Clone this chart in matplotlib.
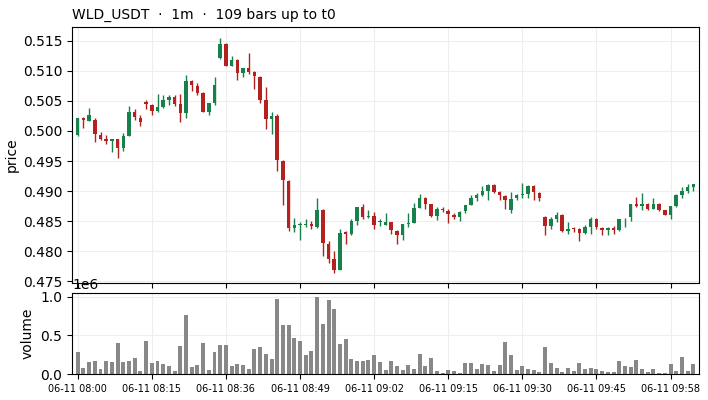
import matplotlib
matplotlib.use("Agg")
import matplotlib.pyplot as plt
import numpy as np

symbol = "WLD_USDT"
interval = "1m"

# OHLC (109 one-minute bars)
opens = [0.49928, 0.50217, 0.50172, 0.50189, 0.49939, 0.49872, 0.49828, 0.49872, 0.49711, 0.49922,
         0.50317, 0.50217, 0.50489, 0.50439, 0.50328, 0.50406, 0.50522, 0.50572, 0.50456, 0.50294,
         0.50839, 0.50756, 0.50639, 0.50322, 0.50472, 0.51211, 0.51456, 0.51089, 0.51189, 0.50961,
         0.51056, 0.50989, 0.50906, 0.50522, 0.50194, 0.50256, 0.49506, 0.49172, 0.48389, 0.48440,
         0.48438, 0.48455, 0.48405, 0.48689, 0.48122, 0.47872, 0.47688, 0.48317, 0.48289, 0.48505,
         0.48739, 0.48572, 0.48589, 0.48483, 0.48438, 0.48488, 0.48339, 0.48272, 0.48450, 0.48472,
         0.48722, 0.48883, 0.48789, 0.48589, 0.48706, 0.48672, 0.48600, 0.48561, 0.48661, 0.48772,
         0.48889, 0.48939, 0.49006, 0.49106, 0.48989, 0.48922, 0.48678, 0.48878, 0.48939, 0.48945,
         0.49089, 0.48972, 0.48572, 0.48422, 0.48539, 0.48606, 0.48339, 0.48378, 0.48372, 0.48294,
         0.48394, 0.48539, 0.48389, 0.48344, 0.48389, 0.48344, 0.48544, 0.48561, 0.48789, 0.48745,
         0.48789, 0.48706, 0.48789, 0.48683, 0.48606, 0.48756, 0.48939, 0.49006, 0.49061]
highs = [0.50222, 0.50228, 0.50383, 0.50217, 0.49983, 0.49939, 0.49872, 0.49872, 0.49967, 0.50422,
         0.50372, 0.50261, 0.50517, 0.50450, 0.50622, 0.50606, 0.50606, 0.50606, 0.50617, 0.50939,
         0.50856, 0.50800, 0.50650, 0.50472, 0.50894, 0.51550, 0.51460, 0.51256, 0.51200, 0.51056,
         0.51306, 0.51000, 0.50911, 0.50733, 0.50322, 0.50283, 0.49522, 0.49180, 0.48550, 0.48490,
         0.48533, 0.48505, 0.48883, 0.48700, 0.48172, 0.47994, 0.48361, 0.48339, 0.48539, 0.48739,
         0.48783, 0.48689, 0.48650, 0.48539, 0.48628, 0.48490, 0.48356, 0.48450, 0.48628, 0.48800,
         0.48950, 0.48894, 0.48789, 0.48728, 0.48728, 0.48706, 0.48628, 0.48661, 0.48772, 0.48928,
         0.48967, 0.49089, 0.49117, 0.49122, 0.48995, 0.48930, 0.48984, 0.48950, 0.49133, 0.49106,
         0.49095, 0.48984, 0.48580, 0.48572, 0.48650, 0.48612, 0.48483, 0.48406, 0.48383, 0.48439,
         0.48572, 0.48545, 0.48395, 0.48395, 0.48411, 0.48539, 0.48556, 0.48789, 0.48900, 0.48972,
         0.48795, 0.48883, 0.48795, 0.48690, 0.48756, 0.48950, 0.49067, 0.49117, 0.49122]
lows = [0.49911, 0.50050, 0.50161, 0.49817, 0.49850, 0.49783, 0.49650, 0.49550, 0.49661, 0.49911,
        0.50183, 0.50078, 0.50361, 0.50261, 0.50317, 0.50383, 0.50428, 0.50417, 0.50150, 0.50217,
        0.50661, 0.50606, 0.50317, 0.50272, 0.50428, 0.51194, 0.51078, 0.51078, 0.50844, 0.50894,
        0.50950, 0.50700, 0.50467, 0.50033, 0.49950, 0.49333, 0.48767, 0.48328, 0.48317, 0.48188,
        0.48399, 0.48366, 0.48377, 0.47911, 0.47795, 0.47633, 0.47677, 0.48117, 0.48272, 0.48428,
        0.48539, 0.48550, 0.48366, 0.48417, 0.48428, 0.48283, 0.48117, 0.48188, 0.48399, 0.48461,
        0.48717, 0.48706, 0.48572, 0.48517, 0.48650, 0.48467, 0.48539, 0.48494, 0.48633, 0.48767,
        0.48828, 0.48911, 0.48850, 0.48967, 0.48845, 0.48700, 0.48628, 0.48845, 0.48883, 0.48878,
        0.48845, 0.48828, 0.48261, 0.48366, 0.48483, 0.48311, 0.48283, 0.48317, 0.48161, 0.48283,
        0.48283, 0.48366, 0.48261, 0.48261, 0.48283, 0.48328, 0.48399, 0.48506, 0.48728, 0.48678,
        0.48678, 0.48700, 0.48661, 0.48595, 0.48539, 0.48739, 0.48878, 0.48972, 0.48994]
closes = [0.50217, 0.50178, 0.50272, 0.49944, 0.49872, 0.49828, 0.49872, 0.49711, 0.49922, 0.50317,
          0.50228, 0.50144, 0.50444, 0.50328, 0.50406, 0.50522, 0.50572, 0.50456, 0.50294, 0.50839,
          0.50761, 0.50639, 0.50322, 0.50472, 0.50772, 0.51456, 0.51089, 0.51189, 0.50961, 0.51056,
          0.50989, 0.50911, 0.50522, 0.50194, 0.50256, 0.49511, 0.49178, 0.48389, 0.48433, 0.48450,
          0.48455, 0.48411, 0.48689, 0.48128, 0.47872, 0.47688, 0.48300, 0.48289, 0.48505, 0.48739,
          0.48572, 0.48589, 0.48438, 0.48500, 0.48488, 0.48344, 0.48272, 0.48450, 0.48472, 0.48717,
          0.48883, 0.48789, 0.48589, 0.48706, 0.48678, 0.48617, 0.48561, 0.48650, 0.48767, 0.48883,
          0.48939, 0.49006, 0.49106, 0.48989, 0.48928, 0.48845, 0.48873, 0.48939, 0.48950, 0.49089,
          0.48978, 0.48878, 0.48422, 0.48533, 0.48606, 0.48339, 0.48372, 0.48361, 0.48294, 0.48394,
          0.48539, 0.48394, 0.48344, 0.48389, 0.48344, 0.48539, 0.48556, 0.48789, 0.48745, 0.48789,
          0.48706, 0.48789, 0.48689, 0.48606, 0.48756, 0.48939, 0.49006, 0.49061, 0.49122]
volumes = [279e3, 82e3, 150e3, 163e3, 69e3, 172e3, 150e3, 395e3, 150e3, 172e3,
           210e3, 34e3, 429e3, 146e3, 172e3, 133e3, 107e3, 43e3, 365e3, 764e3,
           94e3, 120e3, 403e3, 56e3, 288e3, 378e3, 378e3, 107e3, 133e3, 120e3,
           69e3, 326e3, 352e3, 262e3, 197e3, 970e3, 635e3, 635e3, 468e3, 429e3,
           249e3, 300e3, 996e3, 648e3, 957e3, 841e3, 391e3, 455e3, 197e3, 172e3,
           163e3, 185e3, 249e3, 150e3, 47e3, 163e3, 107e3, 47e3, 120e3, 69e3,
           262e3, 107e3, 210e3, 43e3, 17e3, 56e3, 43e3, 17e3, 146e3, 146e3,
           69e3, 133e3, 120e3, 43e3, 120e3, 416e3, 249e3, 56e3, 107e3, 69e3,
           56e3, 30e3, 352e3, 146e3, 82e3, 30e3, 82e3, 43e3, 146e3, 69e3,
           82e3, 69e3, 43e3, 30e3, 30e3, 172e3, 107e3, 94e3, 185e3, 69e3,
           30e3, 69e3, 17e3, 17e3, 133e3, 43e3, 223e3, 43e3, 133e3]
tick_labels = ["06-11 08:00", "06-11 08:15", "06-11 08:36", "06-11 08:49", "06-11 09:02",
               "06-11 09:15", "06-11 09:30", "06-11 09:45", "06-11 09:58"]

up_color = "#17804b"
down_color = "#b3221f"

o = np.array(opens)
h = np.array(highs)
l = np.array(lows)
c = np.array(closes)
n = len(c)
x = np.arange(n)
colors = np.where(c >= o, up_color, down_color)

fig = plt.figure(figsize=(7.08, 4.0), dpi=100)
ax = fig.add_axes([0.1017, 0.2925, 0.8856, 0.64])
axv = fig.add_axes([0.1017, 0.065, 0.8856, 0.2025], sharex=ax)

# wicks then bodies
ax.vlines(x, l, h, colors=colors, linewidth=1.0)
body = np.abs(c - o)
body = np.maximum(body, 0.00003)
ax.bar(x, body, bottom=np.minimum(o, c), width=0.6, color=colors, linewidth=0)

ax.set_ylabel("price", labelpad=3)
ax.set_title(f"{symbol}  \u00b7  {interval}  \u00b7  {n} bars up to t0", loc="left", fontsize=10)
ax.grid(True, color="#eeeeee", linewidth=0.8)
ax.set_axisbelow(True)
ax.tick_params(labelbottom=False)
ax.set_yticks(np.arange(0.475, 0.5151, 0.005))
ax.set_ylim(0.47467, 0.51733)

axv.bar(x, volumes, width=0.7, color="#888888")
axv.set_ylabel("volume")
axv.grid(True, color="#eeeeee", linewidth=0.8)
axv.set_axisbelow(True)
axv.set_yticks([0, 0.5e6, 1.0e6])
axv.set_ylim(0, max(volumes) * 1.05)
axv.set_xticks(np.arange(0, n, 13))
axv.set_xticklabels(tick_labels, fontsize=7)
axv.set_xlim(-1, n)

fig.savefig("out.png", dpi=100)
